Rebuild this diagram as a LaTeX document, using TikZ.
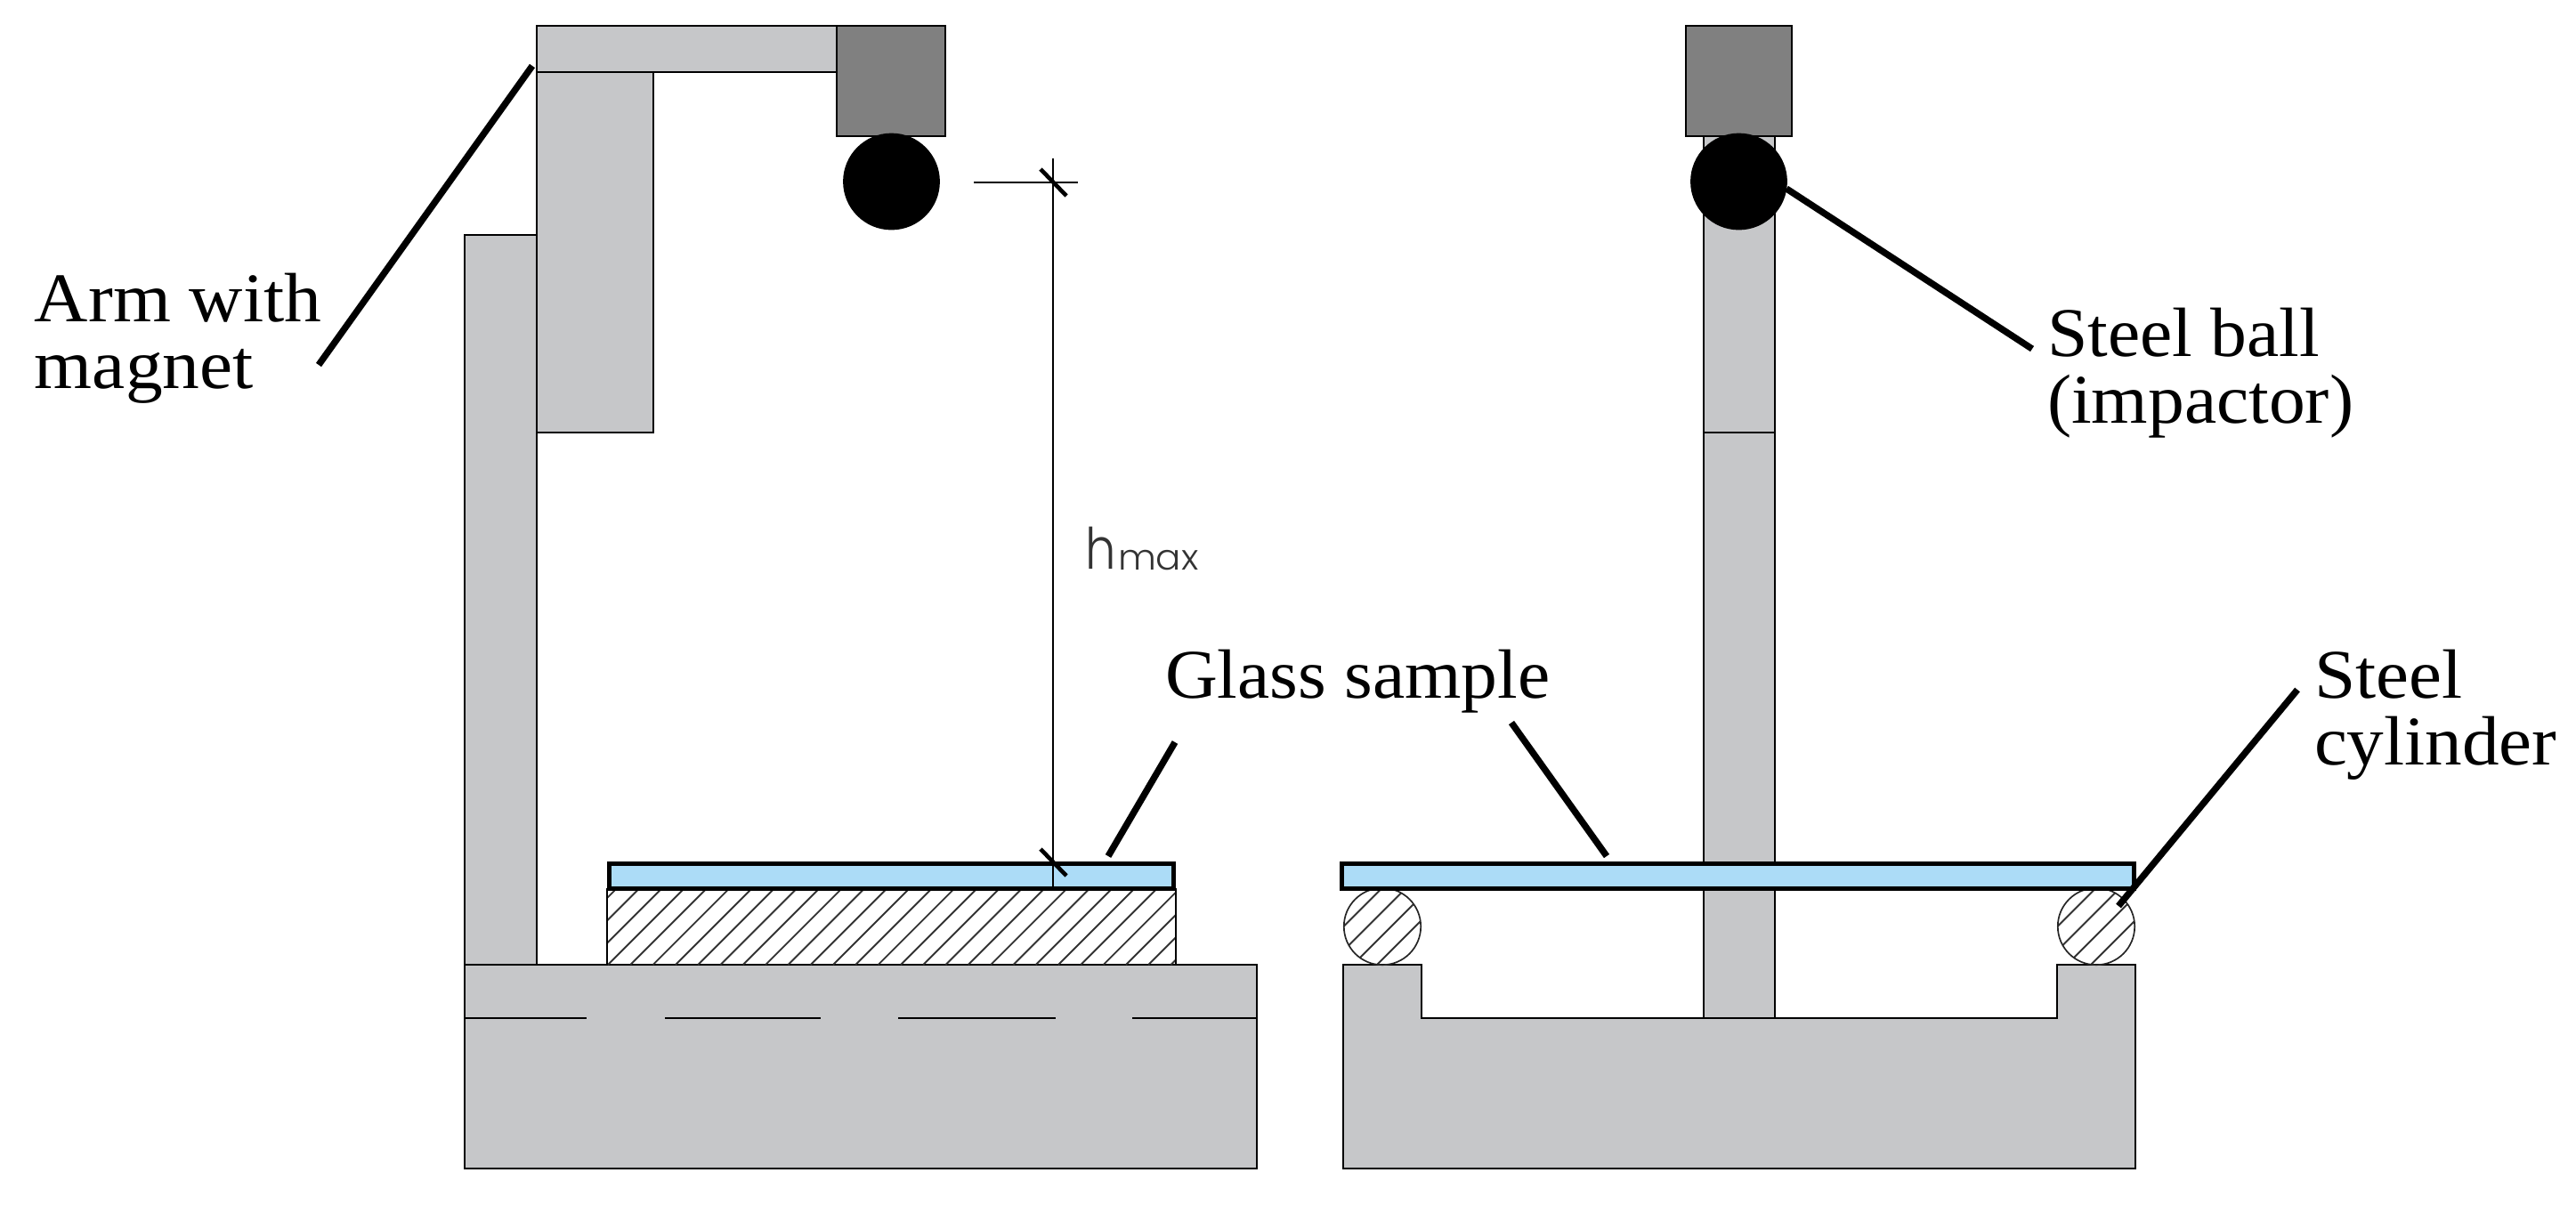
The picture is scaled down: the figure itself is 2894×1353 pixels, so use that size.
\documentclass[tikz,border=0pt]{standalone}
\usepackage{fontspec}
\setmainfont{Liberation Serif}
\newfontfamily\cadfont{Poppins Light}
\definecolor{steelgray}{HTML}{C6C7C9}
\definecolor{magnetgray}{HTML}{808080}
\definecolor{glassblue}{HTML}{ACDCF7}
\tikzset{
  part/.style={draw=black,line width=0.68pt,fill=steelgray},
  magnet/.style={draw=black,line width=0.68pt,fill=magnetgray},
  glass/.style={draw=black,line width=1.25pt,fill=glassblue},
  ball/.style={fill=black,draw=none},
  leader/.style={draw=black,line width=1.85pt},
  dim/.style={draw=black,line width=0.62pt},
  tick/.style={draw=black,line width=1.15pt},
  hatch/.style={draw=black!80,line width=0.48pt},
  outline/.style={draw=black!85,line width=0.42pt},
  lab/.style={inner sep=0pt,outer sep=0pt,anchor=base west,align=left,xscale=1.04,font=\fontsize{19.6}{18.75}\selectfont},
  cad/.style={inner sep=0pt,outer sep=0pt,anchor=base west,text=black!80},
}
\begin{document}
\begin{tikzpicture}[x=0.25pt,y=-0.25pt]
\useasboundingbox (0,0) rectangle (2894,1353);
% ---- left view ----
\draw[part] (522,264) rectangle (603,1084);
\draw[part] (603,81) rectangle (734,486);
\draw[part] (603,29) rectangle (940,81);
\draw[part] (522,1084) rectangle (1412,1313);
\draw[part] (522,1144) -- (659,1144) (747,1144) -- (922,1144) (1009,1144) -- (1186,1144) (1272,1144) -- (1412,1144);
% hatched block
\begin{scope}
\clip (682,998) rectangle (1321,1084);
\foreach \k in {-4,...,26} {
  \draw[hatch] ({683+25.3*\k},1084) -- ({683+25.3*\k+86},998);
}
\end{scope}
\draw[part,fill=none] (682,1084) -- (682,998) (1321,998) -- (1321,1084);
\draw[magnet] (940,29) rectangle (1062,153);
\draw[ball] (1001.5,204) circle[radius=13.6pt];
\coordinate (dimtop) at (1183,178);
\coordinate (dimbot) at (1183,998);
\coordinate (ballref) at (1094,205);
\coordinate (refend) at (1211,205);
\draw[glass] (684,970) rectangle (1318,998);
\draw[dim] (dimtop) -- (dimbot);
\draw[dim] (ballref) -- (refend);
\draw[tick] (1169,190) -- (1198,220);
\draw[tick] (1169,954) -- (1198,984);
% ---- right view ----
\draw[part] (1914,153) rectangle (1994,1144);
\draw[part] (1914,486) -- (1994,486);
\draw[part] (1509,1084) -- (1597,1084) -- (1597,1144) -- (2311,1144) -- (2311,1084) -- (2399,1084) -- (2399,1313) -- (1509,1313) -- cycle;
\foreach \cx in {1553,2355} {
  \begin{scope}
  \clip (\cx,1041) circle[radius=10.8pt];
  \foreach \off in {-43.5,-16.5,10,37} {
    \draw[hatch] ({\cx+\off+60},981) -- ({\cx+\off-60},1101);
  }
  \end{scope}
  \draw[outline] (\cx,1041) circle[radius=10.8pt];
}
\draw[glass] (1507,970) rectangle (2397,998);
\draw[magnet] (1894,29) rectangle (2013,153);
\draw[ball] (1953.5,204) circle[radius=13.6pt];
% ---- labels ----
\node[lab,xscale=1.024] (armlab) at (39,436) {Arm with\\magnet};
\node[lab] (balllab) at (2300,475) {Steel ball\\(impactor)};
\node[lab] (glasslab) at (1309,784) {Glass sample};
\node[lab,xscale=1.02] (cyllab) at (2600,859) {Steel\\cylinder};
\node[cad,xscale=0.85,font=\cadfont\fontsize{16}{16}\selectfont] (hlab) at (1219,639) {h};
\node[cad,xscale=1.05,font=\cadfont\fontsize{10}{10}\selectfont] (maxlab) at (1256,640) {max};
% ---- leaders ----
\coordinate (a0) at (358,410); \coordinate (a1) at (598,74);
\coordinate (b0) at (2007,212); \coordinate (b1) at (2283,392);
\coordinate (g0) at (1320,834); \coordinate (g1) at (1245,962);
\coordinate (h0) at (1698,812); \coordinate (h1) at (1805,962);
\coordinate (c0) at (2581,775); \coordinate (c1) at (2380,1018);
\draw[leader] (a0) -- (a1);
\draw[leader] (b0) -- (b1);
\draw[leader] (g0) -- (g1);
\draw[leader] (h0) -- (h1);
\draw[leader] (c0) -- (c1);
\end{tikzpicture}
\end{document}
